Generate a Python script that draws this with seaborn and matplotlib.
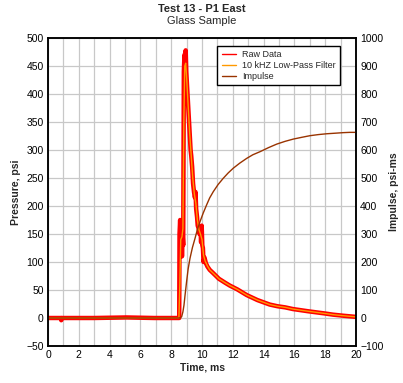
import numpy as np
import pandas as pd
import matplotlib
matplotlib.use("Agg")
import matplotlib.pyplot as plt
import seaborn as sns
from matplotlib.lines import Line2D

# ---- data ----
raw_t = [0.0, 0.84, 0.86, 0.88, 3.0, 5.1, 6.9, 8.50, 8.52, 8.54, 8.58, 8.62, 8.66, 8.70, 8.74, 8.78,
         8.82, 8.86, 8.90, 8.94, 8.98, 9.02, 9.06, 9.10, 9.14, 9.18, 9.22, 9.26, 9.30,
         9.36, 9.42, 9.48, 9.54, 9.58, 9.62, 9.68, 9.72, 9.78, 9.84, 9.90, 9.94, 9.98,
         10.02, 10.06, 10.10, 10.16, 10.25, 10.35, 10.5, 10.73, 11.1, 11.5, 11.8, 12.3,
         12.9, 13.6, 14.4, 14.9, 15.4, 15.9, 16.4, 16.9, 17.45, 18.0, 18.5, 19.2, 20.0]
raw_p = [0, 0, -4, 0, 0, 1, 0, 0, 0, 150, 175, 120, 165, 110, 150, 130,
         440, 470, 455, 478, 440, 420, 400, 380, 360, 340, 320, 300, 290,
         270, 240, 225, 215, 225, 195, 180, 165, 160, 150, 160, 135, 165,
         130, 125, 100, 108, 98, 92, 86, 80, 70, 63, 58, 51,
         41, 32, 24, 21, 19, 16, 14, 12, 10, 8, 6, 4, 2]

filt_t = [0.0, 8.50, 8.56, 8.62, 8.70, 8.76, 8.82, 8.88, 8.94, 9.0, 9.1, 9.2, 9.3, 9.4,
          9.5, 9.6, 9.7, 9.8, 9.9, 10.0, 10.1, 10.2, 10.35, 10.5, 10.73, 11.1, 11.5,
          11.8, 12.3, 12.9, 13.6, 14.4, 14.9, 15.4, 15.9, 16.4, 16.9, 17.45, 18.0,
          18.5, 19.2, 20.0]
filt_p = [0, 0, 60, 140, 145, 160, 350, 450, 455, 430, 380, 330, 290, 250,
          222, 205, 175, 158, 150, 140, 112, 102, 93, 86, 80, 70, 63,
          58, 51, 41, 32, 24, 21, 19, 16, 14, 12, 10, 8,
          6, 4, 2]

imp_t = [0.0, 8.5, 8.6, 8.68, 8.76, 8.83, 8.9, 9.0, 9.1, 9.22, 9.38, 9.55, 9.7, 9.87,
         10.08, 10.3, 10.5, 10.73, 11.05, 11.38, 11.7, 12.03, 12.45, 12.9, 13.3, 13.77,
         14.3, 14.85, 15.4, 15.93, 16.45, 17.0, 17.55, 18.1, 18.65, 19.18, 19.6, 20.0]
imp_v = [0, 0, 1, 5, 22, 46, 82, 130, 175, 213, 252, 285, 316, 344,
         375, 404, 429, 451, 477, 499, 518, 535, 553, 570, 583, 594,
         608, 621, 631, 639, 645, 651, 655, 658, 660, 662, 663, 663]

x_ticks = list(range(0, 21, 2))
p_ticks = list(range(-50, 501, 50))
i_ticks = list(range(-100, 1001, 100))
labels = ["Raw Data", "10 kHZ Low-Pass Filter", "Impulse"]
colors = ["#ff0000", "#ff9900", "#993300"]

raw_df = pd.DataFrame({"t": raw_t, "p": raw_p})
filt_df = pd.DataFrame({"t": filt_t, "p": filt_p})
imp_df = pd.DataFrame({"t": imp_t, "v": imp_v})

sns.set_style("white")
plt.rcParams['font.family'] = ['Liberation Sans', 'DejaVu Sans']

fig = plt.figure(figsize=(4.03, 3.83), dpi=100)
ax = fig.add_axes([48 / 403, 37 / 383, 308 / 403, 308 / 383])

sns.lineplot(data=raw_df, x="t", y="p", ax=ax, color=colors[0], lw=3.2,
             estimator=None, sort=False, legend=False)
sns.lineplot(data=filt_df, x="t", y="p", ax=ax, color=colors[1], lw=1.0,
             estimator=None, sort=False, legend=False)

ax.set_xlim(0, 20)
ax.set_ylim(-50, 500)
ax.set_xticks(x_ticks)
ax.set_xticks(list(range(0, 21)), minor=True)
ax.set_yticks(p_ticks)
ax.grid(True, which='both', axis='x', color='#c8c8c8', lw=0.9)
ax.grid(True, which='major', axis='y', color='#c8c8c8', lw=0.9)
ax.set_axisbelow(True)
ax.tick_params(axis='both', which='both', length=0, labelsize=7.5, pad=3, colors='black')
ax.set_xlabel("Time, ms", fontsize=7.5, fontweight='bold', labelpad=2)
ax.set_ylabel("Pressure, psi", fontsize=7.5, fontweight='bold', labelpad=4)

ax2 = ax.twinx()
sns.lineplot(data=imp_df, x="t", y="v", ax=ax2, color=colors[2], lw=1.0,
             estimator=None, sort=False, legend=False)
ax2.set_ylim(-100, 1000)
ax2.set_yticks(i_ticks)
ax2.tick_params(axis='y', length=0, labelsize=7.5, pad=3, colors='black')
ax2.set_ylabel("Impulse, psi-ms", fontsize=7.5, fontweight='bold', labelpad=4)
ax2.set_xlim(0, 20)

for a in (ax, ax2):
    for s in a.spines.values():
        s.set_color('black')
        s.set_linewidth(1.1)

handles = [Line2D([], [], color=c, lw=1.0) for c in colors]
leg = ax2.legend(handles, labels, loc='upper right', bbox_to_anchor=(0.948, 0.975),
                 fontsize=6.5, frameon=True, fancybox=False, framealpha=1,
                 edgecolor='black', borderpad=0.5, labelspacing=0.2,
                 handlelength=1.6, handletextpad=0.6, borderaxespad=0)
leg.get_frame().set_linewidth(1.0)

fig.text(202 / 403, 1 - 9 / 383, "Test 13 - P1 East", ha='center', va='center',
         fontsize=8, fontweight='bold')
fig.text(202 / 403, 1 - 21 / 383, "Glass Sample", ha='center', va='center', fontsize=8)

fig.savefig("out.png", dpi=100)
